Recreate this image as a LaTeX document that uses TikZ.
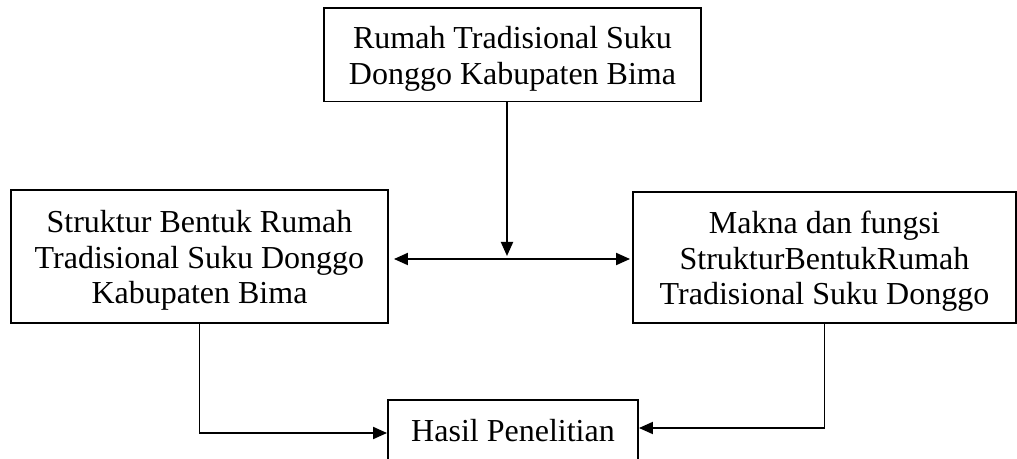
\documentclass[tikz,border=0pt]{standalone}
\usepackage{fontspec}
\setmainfont{Liberation Serif}
\usetikzlibrary{arrows.meta}
\newcommand{\firstlinestrut}{\rule{0pt}{30bp}}
\begin{document}
\begin{tikzpicture}[x=1bp,y=-1bp,
  box/.style={draw, line width=1.9bp, inner sep=0pt, align=center,
    font=\fontsize{32bp}{35.5bp}\selectfont},
  conn/.style={line width=1.9bp, -{Triangle[length=14bp,width=12bp]}},
  dconn/.style={line width=1.9bp, {Triangle[length=14bp,width=12bp]}-{Triangle[length=14bp,width=12bp]}}
]
\clip (0,0) rectangle (1017,459);
\node[box, minimum width=377bp, minimum height=93.5bp] (top) at (512.5,54.75)
  {\firstlinestrut Rumah Tradisional Suku\\Donggo Kabupaten Bima};
\node[box, minimum width=377bp, minimum height=133bp] (left) at (199.5,256.5)
  {\firstlinestrut Struktur Bentuk Rumah\\Tradisional Suku Donggo\\Kabupaten Bima};
\node[box, minimum width=383bp, minimum height=131bp] (right) at (824.5,257.5)
  {\firstlinestrut Makna dan fungsi\\StrukturBentukRumah\\Tradisional Suku Donggo};
\node[box, minimum width=250bp, minimum height=62bp] (hasil) at (513,431)
  {Hasil Penelitian};
\coordinate (j) at (507,259);
\coordinate (jtip) at (507,256);
\draw[conn] (top.south -| jtip) -- (jtip);
\draw[dconn] ([xshift=5bp]left.east |- j) -- ([xshift=-2bp]right.west |- j);
\draw[conn] (left.south) |- ([yshift=-2bp]hasil.west);
\draw[conn] (right.south) |- ([yshift=3bp]hasil.east);
\end{tikzpicture}
\end{document}
